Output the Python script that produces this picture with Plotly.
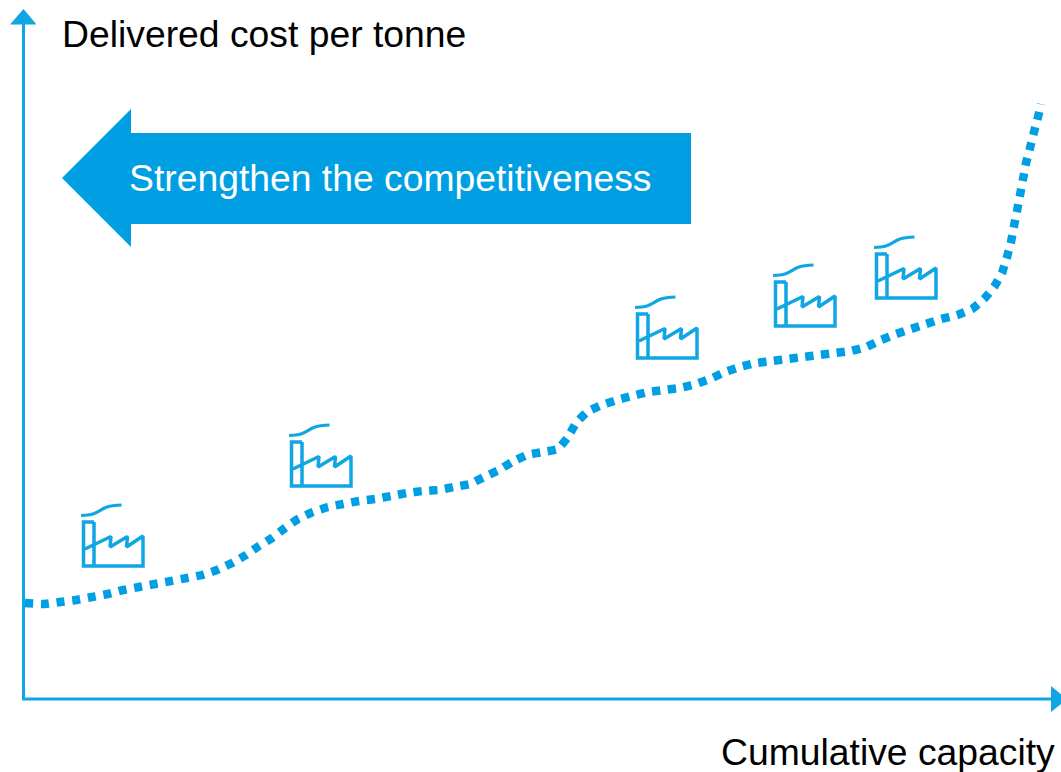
import plotly.graph_objects as go

BLUE = "#009FE3"
AXIS = "#0FA6E3"

curve_x = [25, 45, 60, 76, 92, 108, 123, 139, 155, 171, 187, 202, 217, 232, 246, 259, 272, 285, 298, 313, 328, 343, 359, 375, 391, 407, 423, 439, 454, 470, 484, 499, 512, 527, 543, 558, 568, 576, 587, 602, 617, 632, 648, 664, 680, 696, 710, 725, 740, 756, 772, 787, 803, 819, 835, 851, 866, 881, 896, 911, 926, 941, 957, 972, 984, 994, 1002, 1007, 1011, 1014, 1017, 1020, 1023, 1026, 1030, 1034, 1038, 1041]
curve_y = [603, 604, 602, 600, 597, 594, 590, 587, 584, 581, 578, 575, 570, 563, 555, 546, 538, 528, 519, 512, 507, 504, 501, 499, 496, 493, 491, 490, 487, 484, 477, 470, 462, 455, 452, 449, 437, 423, 412, 405, 400, 396, 392, 390, 388, 384, 379, 372, 367, 363, 361, 359, 357, 355, 353, 351, 347, 340, 334, 329, 324, 319, 315, 309, 299, 287, 273, 257, 242, 226, 211, 195, 179, 163, 148, 132, 117, 104]

arrow_x = [62, 131, 131, 691, 691, 131, 131, 62]
arrow_y = [178, 109, 133, 133, 224, 224, 247, 178]

factory_dx = [0, 208, 554, 692, 793]
factory_dy = [0, -80, -208, -240, -268]
smoke_x = [81, 93, 107, 121.5]
smoke_y = [515.5, 514, 507, 505]
body_x = [94, 83.5, 83.5, 94, 94, 94, 143, 143, 126.5, 127.5, 110, 111, 85]
body_y = [522, 522, 566, 566, 522, 566, 566, 536, 547, 536.5, 547, 536.5, 549]

fig = go.Figure()


def poly(x, y, color):
    fig.add_trace(go.Scatter(x=x, y=y, mode="lines", fill="toself", fillcolor=color,
                             line=dict(color=color, width=0), hoverinfo="skip"))


def line(x, y, color, width, **kw):
    fig.add_trace(go.Scatter(x=x, y=y, mode="lines", hoverinfo="skip",
                             line=dict(color=color, width=width, **kw)))


# axes
line([23.5, 23.5, 1052], [22, 699, 699], AXIS, 3)
poly([23.5, 10, 36.5], [9, 24.5, 24.5], AXIS)
poly([1051, 1051, 1067], [686, 712, 699], AXIS)

# cost curve
line(curve_x, curve_y, BLUE, 8.5, dash="8.2px,7.6px", shape="spline", smoothing=0.3)

# big arrow
poly(arrow_x, arrow_y, BLUE)

# factories
for dx, dy in zip(factory_dx, factory_dy):
    line([v + dx for v in smoke_x], [v + dy for v in smoke_y], AXIS, 3.2, shape="spline")
    line([v + dx for v in body_x], [v + dy for v in body_y], AXIS, 3.5)

FONT = "Liberation Sans, Arial, sans-serif"


def label(x, y, text, color):
    fig.add_annotation(x=x, y=y, text=text, showarrow=False, xanchor="left", yanchor="middle",
                       xref="x", yref="y", borderpad=0, xshift=-1,
                       font=dict(family=FONT, size=37.3, color=color))


label(62, 34, "Delivered cost per tonne", "#000000")
label(129, 178, "Strengthen the competitiveness", "#FFFFFF")
label(721, 752, "Cumulative capacity", "#000000")

fig.update_layout(
    width=1061, height=772, margin=dict(l=0, r=0, t=0, b=0),
    paper_bgcolor="white", plot_bgcolor="white", showlegend=False,
    xaxis=dict(range=[0, 1061], visible=False, fixedrange=True),
    yaxis=dict(range=[772, 0], visible=False, fixedrange=True),
)
fig.write_html("out.html", config={"displayModeBar": False},
               post_script="document.body.style.margin='0';document.body.style.overflow='hidden';")
